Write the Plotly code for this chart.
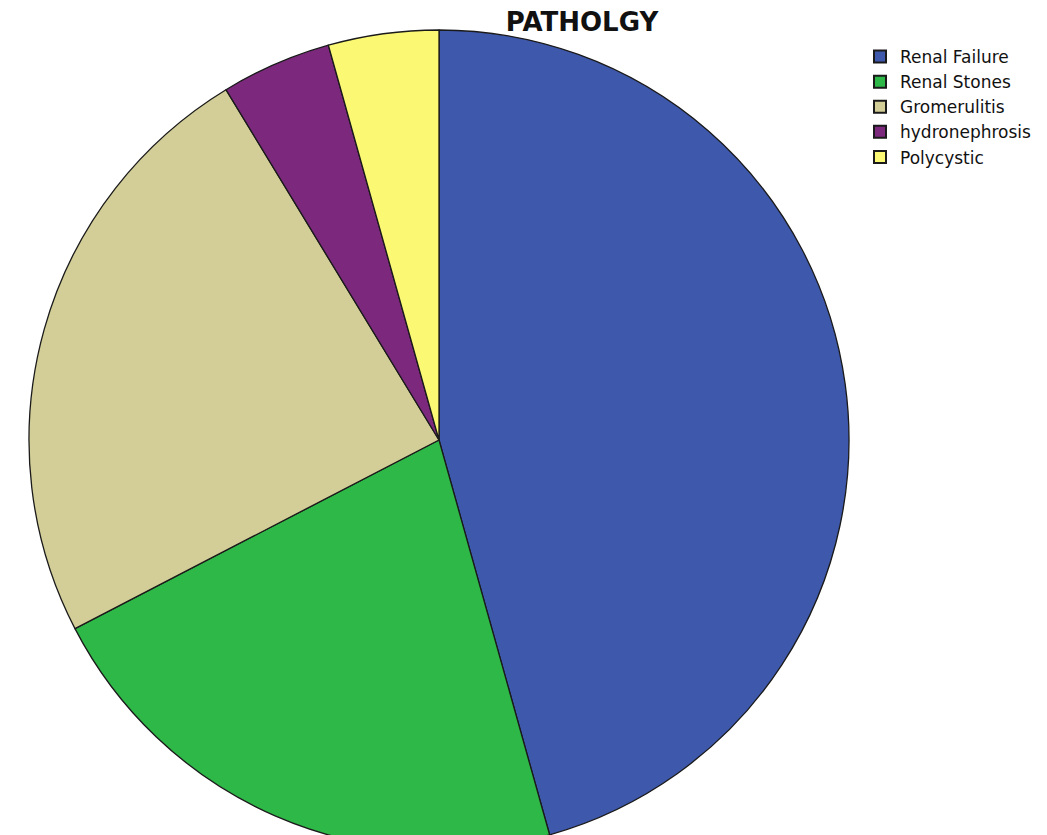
import plotly.graph_objects as go

categories = ["Renal Failure", "Renal Stones", "Gromerulitis", "hydronephrosis", "Polycystic"]
counts = [21, 10, 11, 2, 2]
colors = ["#3E58AC", "#2EB848", "#D3CE97", "#7C287D", "#FBF873"]

W, H = 1047, 850
OFF = 8  # page body margin
cx, cy, r = 439 - OFF, 440 - OFF, 410

fig = go.Figure(go.Pie(
    labels=categories,
    values=counts,
    marker=dict(colors=colors, line=dict(color="#1a1a1a", width=1.3)),
    sort=False,
    direction="clockwise",
    rotation=0,
    textinfo="none",
    hoverinfo="label+value+percent",
    domain=dict(x=[(cx - r) / W, (cx + r) / W], y=[(H - cy - r) / H, (H - cy + r) / H]),
))

fig.update_layout(
    width=W, height=H,
    margin=dict(l=0, r=0, t=0, b=0),
    paper_bgcolor="white",
    title=dict(text="<b>PATHOLGY</b>", x=(582 - OFF) / W, xanchor="center",
               y=1 - (22 - OFF) / H, yanchor="middle",
               font=dict(family="DejaVu Sans", size=26, color="#111")),
    legend=dict(x=(860 - OFF) / W, y=1 - (39 - OFF) / H, xanchor="left", yanchor="top",
                font=dict(family="DejaVu Sans", size=17, color="#111"),
                itemsizing="constant", tracegroupgap=0, bgcolor="rgba(0,0,0,0)"),
)

fig.write_html("out.html")
